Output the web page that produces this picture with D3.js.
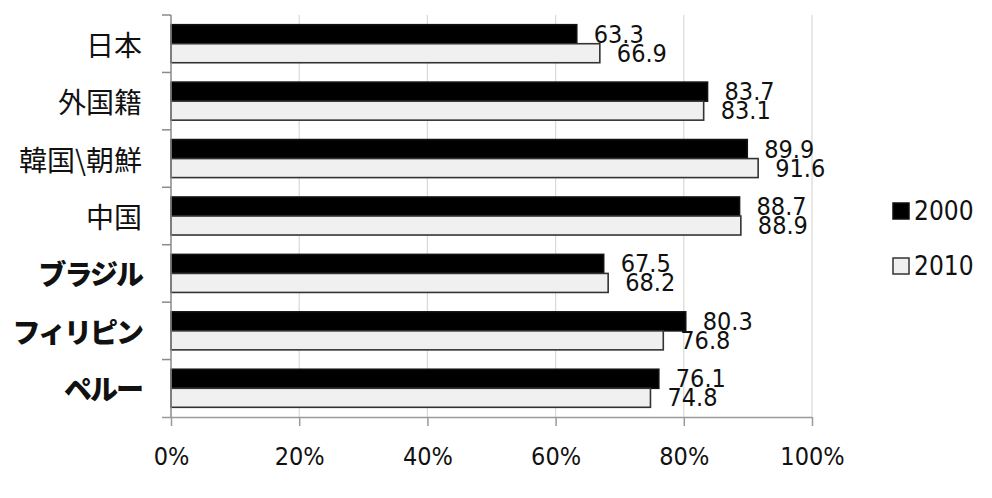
<!DOCTYPE html>
<html>
<head>
<meta charset="utf-8">
<script src="https://cdn.jsdelivr.net/npm/d3@7"></script>
<style>
  body { margin: 0; background: #fff; }
  svg { display: block; }
</style>
</head>
<body>
<div id="chart"></div>
<script>
// data
const categories = ['日本', '外国籍', '韓国\\朝鮮', '中国', 'ブラジル', 'フィリピン', 'ペルー'];
const seriesNames = ['2000', '2010'];
const values2000 = [63.3, 83.7, 89.9, 88.7, 67.5, 80.3, 76.1];
const values2010 = [66.9, 83.1, 91.6, 88.9, 68.2, 76.8, 74.8];
const xTicks = [0, 20, 40, 60, 80, 100];

const width = 992;
const height = 498;
const numFont = '"DejaVu Sans Condensed", "DejaVu Sans", sans-serif';
const cjkFont = '"Noto Sans CJK JP", sans-serif';

const rows = categories.map((c, i) => ({cat: c, '2000': values2000[i], '2010': values2010[i]}));

const svg = d3.select('#chart')
    .append('svg')
        .attr('width', width)
        .attr('height', height);

// scales
const x = d3.scaleLinear()
    .domain([0, 100])
    .range([171, 812]);

const y = d3.scaleBand()
    .domain(categories)
    .range([15, 417])
    .padding(0);

const yInner = d3.scaleBand()
    .domain(seriesNames)
    .range([0, y.bandwidth()])
    .paddingInner(0)
    .paddingOuter(0.51);

const fills = {'2000': '#000000', '2010': '#f0f0f0'};
const strokes = {'2000': '#111111', '2010': '#333333'};

// vertical gridlines
svg.append('g')
    .selectAll('line')
    .data(xTicks.filter(d => d > 0))
    .join('line')
        .attr('x1', d => x(d))
        .attr('x2', d => x(d))
        .attr('y1', 15)
        .attr('y2', 417)
        .attr('stroke', '#d9d9d9')
        .attr('stroke-width', 1.2);

// bars
const groups = svg.append('g')
    .selectAll('g')
    .data(rows)
    .join('g')
        .attr('transform', d => `translate(0, ${y(d.cat)})`);

groups.selectAll('rect')
    .data(d => seriesNames.map(s => ({s: s, v: d[s]})))
    .join('rect')
        .attr('x', x(0))
        .attr('y', d => yInner(d.s))
        .attr('width', d => x(d.v) - x(0))
        .attr('height', yInner.bandwidth())
        .attr('fill', d => fills[d.s])
        .attr('stroke', d => strokes[d.s])
        .attr('stroke-width', 1.6);

// value labels (they overlap in the original too)
groups.selectAll('text')
    .data(d => seriesNames.map(s => ({s: s, v: d[s]})))
    .join('text')
        .attr('x', d => x(d.v) + 17)
        .attr('y', d => yInner(d.s) + yInner.bandwidth() / 2)
        .attr('dominant-baseline', 'central')
        .style('font-family', numFont)
        .style('font-size', '25px')
        .attr('fill', '#111')
        .text(d => d3.format('.1f')(d.v));

// x-axis
const xAxis = svg.append('g')
    .attr('transform', `translate(0, 417)`)
    .call(d3.axisBottom(x)
        .tickValues(xTicks)
        .tickSize(9)
        .tickPadding(21)
        .tickSizeOuter(0)
        .tickFormat(d => d + '%'));

xAxis.select('.domain')
    .attr('d', `M162,0.5H${x(100)}`)
    .attr('stroke', '#9a9a9a')
    .attr('stroke-width', 1.5);
xAxis.selectAll('.tick line')
    .attr('stroke', '#9a9a9a')
    .attr('stroke-width', 1.5);
xAxis.selectAll('.tick text')
    .style('font-family', numFont)
    .style('font-size', '25px')
    .attr('fill', '#111');

// y-axis line and ticks at band edges
const yAxis = svg.append('g');
yAxis.append('line')
    .attr('x1', x(0))
    .attr('x2', x(0))
    .attr('y1', y.range()[0])
    .attr('y2', y.range()[1])
    .attr('stroke', '#8a8a8a')
    .attr('stroke-width', 1.5);

yAxis.selectAll('line.ytick')
    .data(categories.map(c => y(c)))
    .join('line')
        .classed('ytick', true)
        .attr('x1', 162)
        .attr('x2', x(0))
        .attr('y1', d => d)
        .attr('y2', d => d)
        .attr('stroke', '#8a8a8a')
        .attr('stroke-width', 1.5);

// category labels, katakana ones come out heavy and tight in the original
const isKana = s => /^[\u30A0-\u30FF]+$/.test(s);
yAxis.selectAll('text')
    .data(categories)
    .join('text')
        .attr('x', 142)
        .attr('y', d => y(d) + y.bandwidth() / 2)
        .attr('text-anchor', 'end')
        .attr('dominant-baseline', 'central')
        .style('font-family', cjkFont)
        .style('font-size', '28px')
        .style('font-weight', d => isKana(d) ? 900 : 400)
        .style('letter-spacing', d => isKana(d) ? '-2px' : '0px')
        .attr('fill', '#111')
        .text(d => d);

// legend
const legend = svg.append('g')
    .selectAll('g')
    .data(seriesNames)
    .join('g')
        .attr('transform', (d, i) => `translate(893, ${211 + i * 55})`);

legend.append('rect')
    .attr('x', 0)
    .attr('y', -8)
    .attr('width', 16)
    .attr('height', 16)
    .attr('fill', d => fills[d])
    .attr('stroke', d => strokes[d])
    .attr('stroke-width', 1.5);

legend.append('text')
    .attr('x', 21)
    .attr('y', 0)
    .attr('dominant-baseline', 'central')
    .style('font-family', numFont)
    .style('font-size', '26px')
    .attr('fill', '#111')
    .text(d => d);
</script>
</body>
</html>
